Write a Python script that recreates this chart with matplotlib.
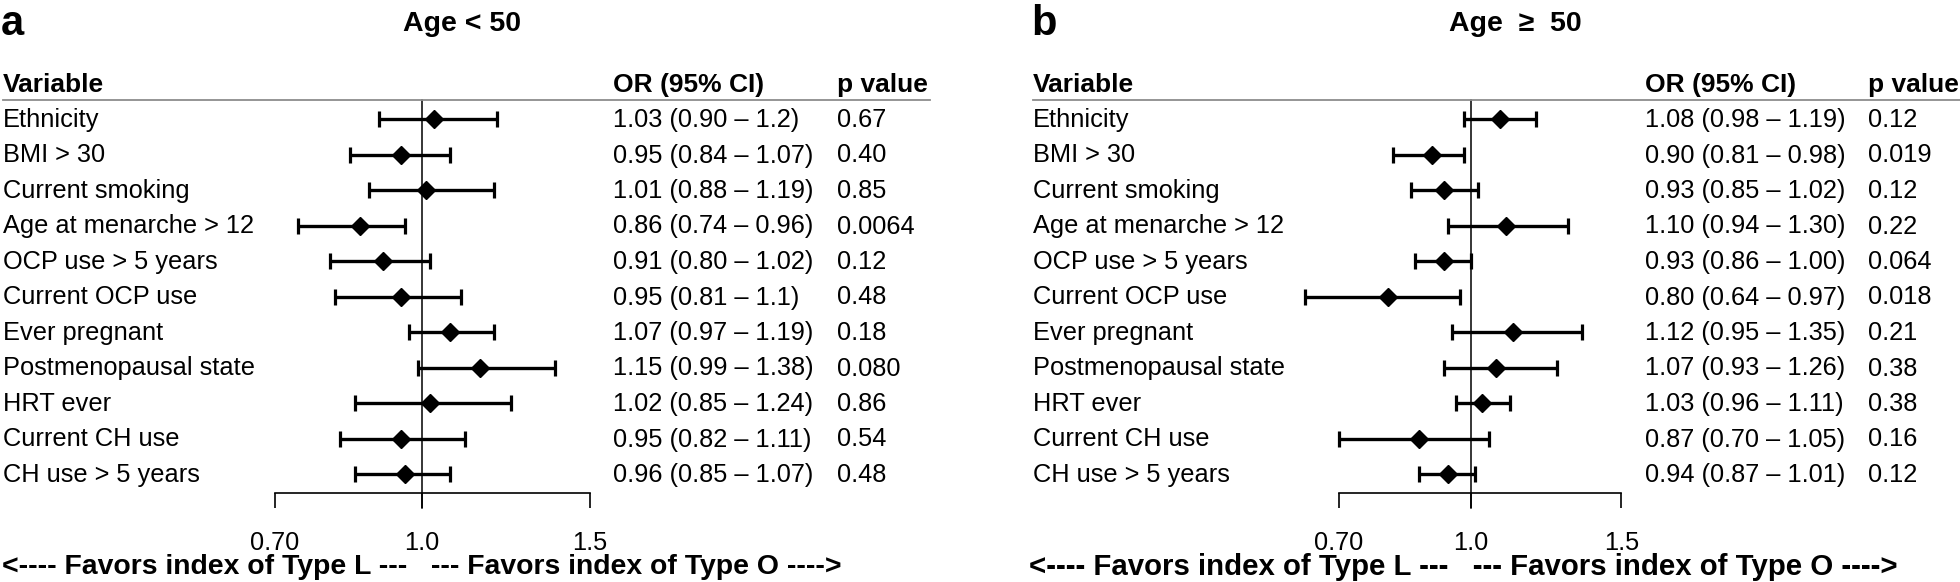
import matplotlib.pyplot as plt
from matplotlib.lines import Line2D
from matplotlib import transforms

W, H = 1960, 582

variables = ["Ethnicity", "BMI > 30", "Current smoking", "Age at menarche > 12",
             "OCP use > 5 years", "Current OCP use", "Ever pregnant",
             "Postmenopausal state", "HRT ever", "Current CH use", "CH use > 5 years"]

# panel a : Age < 50
or_a = [1.03, 0.95, 1.01, 0.86, 0.91, 0.95, 1.07, 1.15, 1.02, 0.95, 0.96]
lo_a = [0.90, 0.84, 0.88, 0.74, 0.80, 0.81, 0.97, 0.99, 0.85, 0.82, 0.85]
hi_a = [1.20, 1.07, 1.19, 0.96, 1.02, 1.10, 1.19, 1.38, 1.24, 1.11, 1.07]
ci_a = ["1.03 (0.90 \u2013 1.2)", "0.95 (0.84 \u2013 1.07)", "1.01 (0.88 \u2013 1.19)",
        "0.86 (0.74 \u2013 0.96)", "0.91 (0.80 \u2013 1.02)", "0.95 (0.81 \u2013 1.1)",
        "1.07 (0.97 \u2013 1.19)", "1.15 (0.99 \u2013 1.38)", "1.02 (0.85 \u2013 1.24)",
        "0.95 (0.82 \u2013 1.11)", "0.96 (0.85 \u2013 1.07)"]
p_a = ["0.67", "0.40", "0.85", "0.0064", "0.12", "0.48", "0.18", "0.080", "0.86", "0.54", "0.48"]

# panel b : Age >= 50
or_b = [1.08, 0.90, 0.93, 1.10, 0.93, 0.80, 1.12, 1.07, 1.03, 0.87, 0.94]
lo_b = [0.98, 0.81, 0.85, 0.94, 0.86, 0.64, 0.95, 0.93, 0.96, 0.70, 0.87]
hi_b = [1.19, 0.98, 1.02, 1.30, 1.00, 0.97, 1.35, 1.26, 1.11, 1.05, 1.01]
ci_b = ["1.08 (0.98 \u2013 1.19)", "0.90 (0.81 \u2013 0.98)", "0.93 (0.85 \u2013 1.02)",
        "1.10 (0.94 \u2013 1.30)", "0.93 (0.86 \u2013 1.00)", "0.80 (0.64 \u2013 0.97)",
        "1.12 (0.95 \u2013 1.35)", "1.07 (0.93 \u2013 1.26)", "1.03 (0.96 \u2013 1.11)",
        "0.87 (0.70 \u2013 1.05)", "0.94 (0.87 \u2013 1.01)"]
p_b = ["0.12", "0.019", "0.12", "0.22", "0.064", "0.018", "0.21", "0.38", "0.38", "0.16", "0.12"]

xticks = [0.7, 1.0, 1.5]
xticklabels = ["0.70", "1.0", "1.5"]
xlab = "<---- Favors index of Type L ---   --- Favors index of Type O ---->"

plt.rcParams['font.family'] = ['Liberation Sans', 'DejaVu Sans']

fig = plt.figure(figsize=(W / 100, H / 100), dpi=100)

# pixel layout
ROW0, STEP = 119.0, 35.5
HDR_Y, AX_Y = 100.0, 492.7


def ftext(x, y, s, **kw):
    fig.text(x / W, 1 - y / H, s, **kw)


def panel(letter, title, x0, x_or, x_p, line_end, x1, x15, title_x,
          ors, los, his, cis, ps, lab_size, lab_shift):
    ftext(x0 - 2, 24, letter, fontsize=30, fontweight='bold', va='center')
    ftext(title_x, 24, title, fontsize=20.5, fontweight='bold', va='center', ha='center')
    ftext(x0, 92, "Variable", fontsize=19, fontweight='bold', va='baseline')
    ftext(x_or, 92, "OR (95% CI)", fontsize=19, fontweight='bold', va='baseline')
    ftext(x_p, 92, "p value", fontsize=19, fontweight='bold', va='baseline')
    fig.add_artist(Line2D([x0 / W, line_end / W], [1 - HDR_Y / H] * 2,
                          color='0.55', lw=1.3, transform=fig.transFigure))
    for i in range(len(variables)):
        yb = ROW0 + STEP * i + 8
        ftext(x0, yb, variables[i], fontsize=18.3, va='baseline')
        ftext(x_or, yb, cis[i], fontsize=18.3, va='baseline')
        ftext(x_p, yb, ps[i], fontsize=18.3, va='baseline')

    # plot area, log x scale
    ax = fig.add_axes([x1 / W, 1 - AX_Y / H, (x15 - x1) / W, (AX_Y - HDR_Y) / H])
    ax.set_xscale('log')
    ax.set_xlim(0.7, 1.5)
    ytop = (HDR_Y - ROW0) / STEP
    ybot = (AX_Y - ROW0) / STEP
    ax.set_ylim(ybot, ytop)
    ax.patch.set_alpha(0)
    for s in ['top', 'left', 'right']:
        ax.spines[s].set_visible(False)
    ax.spines['bottom'].set_linewidth(1.2)
    ax.set_yticks([])
    ax.set_xticks(xticks, labels=xticklabels)
    ax.minorticks_off()
    ax.tick_params(axis='x', direction='out', length=10.8, width=1.2, pad=17,
                   labelsize=18.3)

    yend = (AX_Y + 15 - ROW0) / STEP
    ax.plot([1, 1], [ytop, yend], color='black', lw=1.1, clip_on=False)

    rows = list(range(len(ors)))
    xerr = [[o - l for o, l in zip(ors, los)], [h - o for o, h in zip(ors, his)]]
    ax.errorbar(ors, rows, xerr=xerr, fmt='none', ecolor='black', elinewidth=2.4,
                capsize=6, capthick=2.3, clip_on=False)
    ax.plot(ors, rows, linestyle='none', marker='D', markersize=9.5,
            color='black', clip_on=False, zorder=5)

    # x label centred near the 1.0 line
    tr = transforms.blended_transform_factory(ax.transData, fig.transFigure)
    tr = tr + transforms.ScaledTranslation(lab_shift / 100, 0, fig.dpi_scale_trans)
    ax.text(1.0, 1 - 567 / H, xlab, transform=tr, fontsize=lab_size, fontweight='bold',
            va='center', ha='center')
    return ax


panel("a", "Age < 50", 3, 613, 837, 930, 274.7, 589.5, 462,
      or_a, lo_a, hi_a, ci_a, p_a, 20.4, 0)
panel("b", "Age  \u2265  50", 1033, 1645, 1868, 1960, 1338.7, 1621.4, 1515,
      or_b, lo_b, hi_b, ci_b, p_b, 21.2, -8)

fig.savefig("out.png", dpi=100)
